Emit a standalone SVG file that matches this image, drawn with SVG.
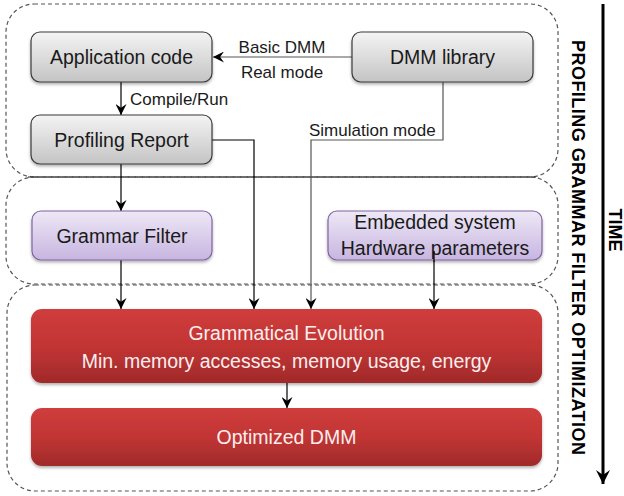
<svg xmlns="http://www.w3.org/2000/svg" width="624" height="496" viewBox="0 0 624 496">
<defs>
<linearGradient id="gGray" x1="0" y1="0" x2="0" y2="1">
<stop offset="0" stop-color="#f4f4f4"/><stop offset="1" stop-color="#c4c4c4"/>
</linearGradient>
<linearGradient id="gPurple" x1="0" y1="0" x2="0" y2="1">
<stop offset="0" stop-color="#eee8f6"/><stop offset="1" stop-color="#c7b5e0"/>
</linearGradient>
<linearGradient id="gRed" x1="0" y1="0" x2="0" y2="1">
<stop offset="0" stop-color="#cf3d3c"/><stop offset="0.5" stop-color="#c23534"/><stop offset="1" stop-color="#a02a2a"/>
</linearGradient>
<filter id="sh" x="-10%" y="-10%" width="120%" height="140%">
<feDropShadow dx="0" dy="2" stdDeviation="1.5" flood-color="#000" flood-opacity="0.3"/>
</filter>
<marker id="arr" viewBox="0 0 10 10" refX="10" refY="5" markerWidth="11" markerHeight="11" markerUnits="userSpaceOnUse" orient="auto">
<path d="M0,0 L10,5 L0,10 L3.5,5 z" fill="#000"/>
</marker>
<marker id="bigarr" viewBox="0 0 10 10" refX="10" refY="5" markerWidth="14" markerHeight="14" markerUnits="userSpaceOnUse" orient="auto">
<path d="M0,0 L10,5 L0,10 L3.5,5 z" fill="#000"/>
</marker>
</defs>
<style>
.region{fill:none;stroke:#555;stroke-width:1.2;stroke-dasharray:4 3}
.gray{fill:url(#gGray);stroke:#3a3a3a;stroke-width:1.2;filter:url(#sh)}
.purple{fill:url(#gPurple);stroke:#8064a2;stroke-width:1.2;filter:url(#sh)}
.red{fill:url(#gRed);stroke:none;filter:url(#sh)}
.t{font-family:"Liberation Sans",Arial,sans-serif;font-size:19.5px;fill:#1a1a1a;text-anchor:middle;dominant-baseline:central}
.tw{font-family:"Liberation Sans",Arial,sans-serif;font-size:19.5px;fill:#fbeeee;text-anchor:middle;dominant-baseline:central}
.lbl{font-family:"Liberation Sans",Arial,sans-serif;font-size:17px;fill:#1a1a1a;dominant-baseline:central}
.vl{font-family:"Liberation Sans",Arial,sans-serif;font-size:18px;font-weight:bold;fill:#000;dominant-baseline:central}
.c{fill:none;stroke:#000;stroke-width:1.2}
.cg{fill:none;stroke:#555;stroke-width:1.2}
</style>

<g id="regions">
<rect class="region" x="6" y="4" width="552" height="173" rx="28"/>
<rect class="region" x="6" y="177" width="552" height="107" rx="28"/>
<rect class="region" x="7" y="285" width="551" height="206" rx="28"/>
<line x1="28" y1="177" x2="536" y2="177" stroke="#333" stroke-width="1.2"/>
</g>

<g id="connectors">
<line class="cg" x1="352" y1="57" x2="213" y2="57" marker-end="url(#arr)"/>
<line class="c" x1="121" y1="82" x2="121" y2="115" marker-end="url(#arr)"/>
<polyline class="cg" points="443,82 443,140 311,140 311,309" marker-end="url(#arr)"/>
<polyline class="c" points="212,140 254,140 254,309" marker-end="url(#arr)"/>
<line class="c" x1="121" y1="164" x2="121" y2="211" marker-end="url(#arr)"/>
<line class="c" x1="121" y1="260" x2="121" y2="309" marker-end="url(#arr)"/>
<line class="c" x1="434" y1="251" x2="434" y2="309" marker-end="url(#arr)"/>
<line class="c" x1="287" y1="383" x2="287" y2="408" marker-end="url(#arr)"/>
<text class="lbl" x="282" y="47" text-anchor="middle">Basic DMM</text>
<text class="lbl" x="282" y="72" text-anchor="middle">Real mode</text>
<text class="lbl" x="130" y="99">Compile/Run</text>
<text class="lbl" x="309" y="130">Simulation mode</text>
</g>

<g id="app-code">
<rect class="gray" x="31" y="32" width="181" height="50" rx="9"/>
<text class="t" x="121.5" y="57">Application code</text>
</g>
<g id="dmm-library">
<rect class="gray" x="352" y="32" width="181" height="50" rx="9"/>
<text class="t" x="442.5" y="57">DMM library</text>
</g>
<g id="profiling-report">
<rect class="gray" x="31" y="115" width="181" height="49" rx="9"/>
<text class="t" x="121.5" y="139.5">Profiling Report</text>
</g>
<g id="grammar-filter">
<rect class="purple" x="32" y="211" width="180" height="49" rx="9"/>
<text class="t" x="122" y="235.5">Grammar Filter</text>
</g>
<g id="embedded-system">
<rect class="purple" x="328" y="211" width="214" height="49" rx="9"/>
<text class="t" x="435" y="222">Embedded system</text>
<text class="t" x="435" y="248">Hardware parameters</text>
</g>
<line class="c" x1="434" y1="251" x2="434" y2="262"/>
<g id="grammatical-evolution">
<rect class="red" x="31" y="309" width="511" height="74" rx="11"/>
<text class="tw" x="286.5" y="333">Grammatical Evolution</text>
<text class="tw" x="286.5" y="361" font-size="20">Min. memory accesses, memory usage, energy</text>
</g>
<g id="optimized-dmm">
<rect class="red" x="31" y="408" width="511" height="58" rx="11"/>
<text class="tw" x="286.5" y="437">Optimized DMM</text>
</g>

<g id="time-axis">
<line x1="603" y1="4" x2="603" y2="484" stroke="#000" stroke-width="3" marker-end="url(#bigarr)"/>
<text class="vl" transform="translate(615,230) rotate(90)" text-anchor="middle" font-size="16">TIME</text>
<text class="vl" transform="translate(578,40) rotate(90)" textLength="415" lengthAdjust="spacing">PROFILING  GRAMMAR  FILTER  OPTIMIZATION</text>
</g>
</svg>
